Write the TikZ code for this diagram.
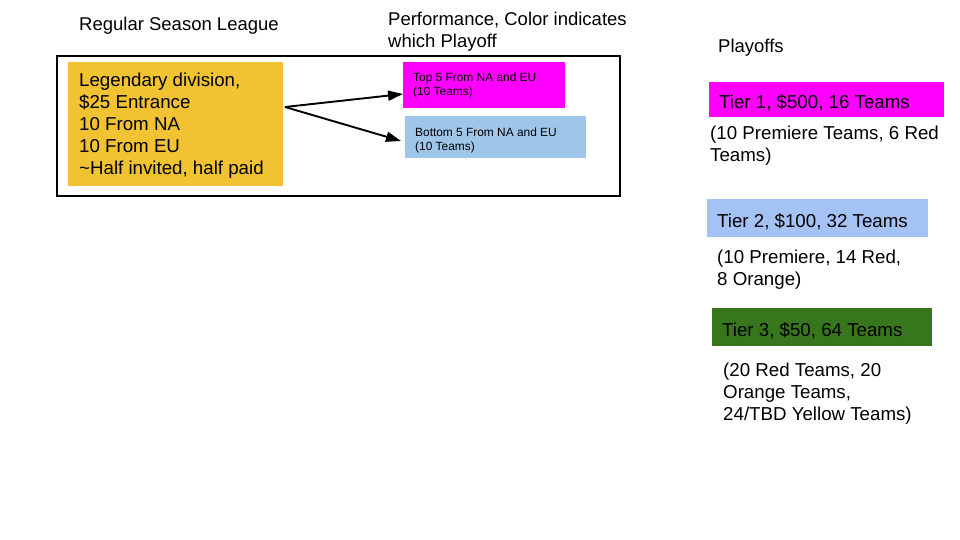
\documentclass[tikz,border=0pt]{standalone}
\usepackage{fontspec}
\setmainfont{Liberation Sans}
\usetikzlibrary{arrows.meta}
\definecolor{cyellow}{HTML}{F1C232}
\definecolor{cmagenta}{HTML}{FF00FF}
\definecolor{cblue}{HTML}{9FC5E8}
\definecolor{ctiertwo}{HTML}{A4C2F4}
\definecolor{cgreen}{HTML}{38761D}
\tikzset{
  box/.style={anchor=north west, inner sep=0, outer sep=0, draw=none},
  big/.style={anchor=base west, inner sep=0, align=left, font=\fontsize{18.7}{22.5}\selectfont},
  head/.style={anchor=base west, inner sep=0, align=left, font=\fontsize{18.5}{22}\selectfont},
  small/.style={anchor=base west, inner sep=0, align=left, font=\fontsize{11.9}{14}\selectfont},
  arr/.style={line width=1.9pt, -{Triangle[length=15pt,width=10pt]}}
}
\begin{document}
\begin{tikzpicture}[x=1pt,y=-1pt]
\useasboundingbox (0,0) rectangle (960,540);
\fill[white] (0,0) rectangle (960,540);
% headers
\node[head] (hreg) at (79,31) {Regular Season League};
\node[head] (hperf1) at (388,26) {Performance, Color indicates};
\node[head] (hperf2) at (388,47.5) {which Playoff};
\node[head] (hplay) at (718,53) {Playoffs};
% outer league frame
\node[box, draw=black, line width=2pt, minimum width=563pt, minimum height=140pt] (league) at (57,56) {};
% yellow box
\node[box, fill=cyellow, minimum width=215pt, minimum height=124pt] (leg) at (68,62) {};
\node[big] (l1) at (79,87) {Legendary division,};
\node[big] (l2) at (79,109) {\$25 Entrance};
\node[big] (l3) at (79,131) {10 From NA};
\node[big] (l4) at (79,153) {10 From EU};
\node[big] (l5) at (79,175) {\char`\~Half invited, half paid};
% performance boxes
\node[box, fill=cmagenta, minimum width=162pt, minimum height=46pt] (top) at (403,62) {};
\node[small] (t1) at (413,82) {Top 5 From NA and EU};
\node[small] (t2) at (413,96) {(10 Teams)};
\node[box, fill=cblue, minimum width=181pt, minimum height=42pt] (bot) at (405,116) {};
\node[small] (b1) at (415,136.5) {Bottom 5 From NA and EU};
\node[small] (b2) at (415,150.5) {(10 Teams)};
% arrows
\coordinate (split) at (285,107);
\coordinate (tipa) at (403,94);
\coordinate (tipb) at (401,141);
\draw[arr] (split) -- (tipa);
\draw[arr] (split) -- (tipb);
% playoffs
\node[box, fill=cmagenta, minimum width=235pt, minimum height=35pt] (tier1) at (709,82) {};
\node[big] (t1a) at (719,108.5) {Tier 1, \$500, 16 Teams};
\node[big] (t1b) at (710,140) {(10 Premiere Teams, 6 Red};
\node[big] (t1c) at (710,162) {Teams)};
\node[box, fill=ctiertwo, minimum width=221pt, minimum height=38pt] (tier2) at (707,199) {};
\node[big] (t2a) at (717,227) {Tier 2, \$100, 32 Teams};
\node[big] (t2b) at (717,263) {(10 Premiere, 14 Red,};
\node[big] (t2c) at (717,285) {8 Orange)};
\node[box, fill=cgreen, minimum width=220pt, minimum height=38pt] (tier3) at (712,308) {};
\node[big] (t3a) at (722,336) {Tier 3, \$50, 64 Teams};
\node[big] (t3b) at (723,376) {(20 Red Teams, 20};
\node[big] (t3c) at (723,398) {Orange Teams,};
\node[big] (t3d) at (723,420) {24/TBD Yellow Teams)};
\end{tikzpicture}
\end{document}
